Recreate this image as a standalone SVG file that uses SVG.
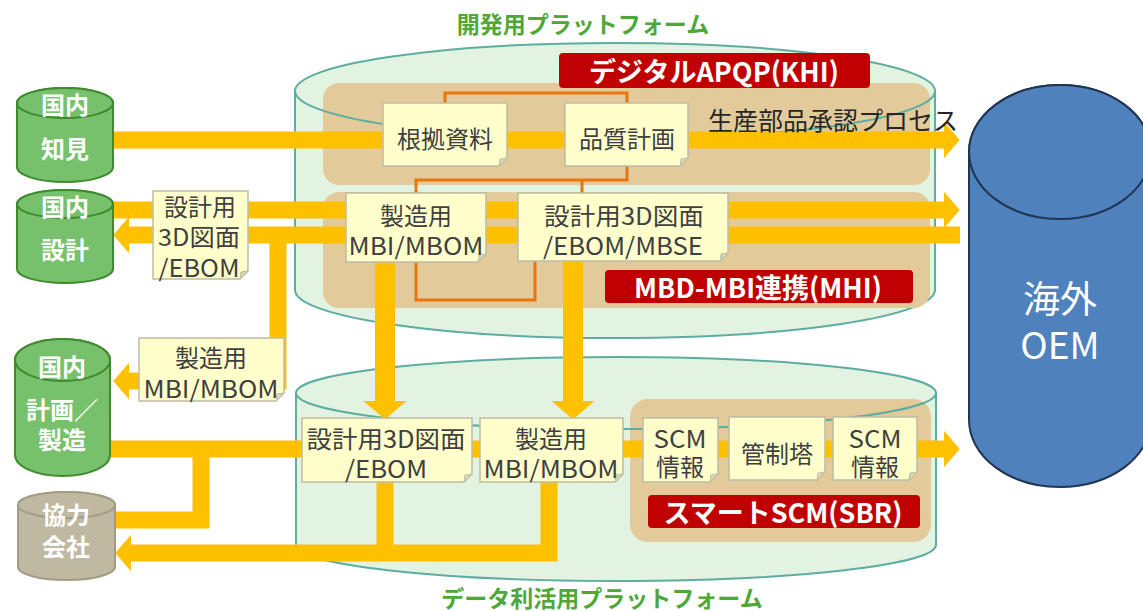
<svg xmlns="http://www.w3.org/2000/svg" width="1143" height="611" viewBox="0 0 1143 611">
<defs>
<style>
text{font-family:"Noto Sans CJK JP","Noto Sans",sans-serif;text-anchor:middle;dominant-baseline:central}
.plat{fill:#E2F3E2;stroke:#5DADA0;stroke-width:2}
.platline{fill:none;stroke:#5DADA0;stroke-width:2}
.tan{fill:#E2CA9A}
.red{fill:#C00000}
.redt{fill:#FFFFFF;font-weight:bold;font-size:27px}
.note{fill:#FFFFCC;stroke:#BDBDA2;stroke-width:1.5}
.fold{fill:#D8D8B4;stroke:#BDBDA2;stroke-width:1}
.nt{fill:#404040;font-size:24px}
.or{fill:none;stroke:#E8760F;stroke-width:3}
.ya{fill:none;stroke:#FFC000;stroke-width:17;stroke-linejoin:miter}
.yb{fill:none;stroke:#FFC000;stroke-width:20}
.gcyl{fill:#77C16D;stroke:#3E8A2C;stroke-width:2}
.kcyl{fill:#BFB9A2;stroke:#A29C84;stroke-width:2}
.ocyl{fill:#4F81BD;stroke:#1F3553;stroke-width:2}
.ct{fill:#FFFFFF;font-weight:bold;font-size:24px}
.title{fill:#4DA838;font-weight:bold;font-size:23px}
</style>
<marker id="ah" viewBox="0 0 19 44" markerWidth="0.95" markerHeight="2.2" refX="0.5" refY="22" orient="auto" markerUnits="strokeWidth">
<path d="M0,0 L19,22 L0,44 Z" fill="#FFC000"/>
</marker>
</defs>

<g id="platform-dev">
<path class="plat" d="M295,91 V290 A320,48 0 0 0 935,290 V91 A320,48 0 0 0 295,91 Z"/>
<rect class="tan" x="323" y="83" width="607" height="102" rx="16"/>
<rect class="tan" x="323" y="192" width="607" height="116" rx="16"/>
<path class="platline" d="M295,91 A320,48 0 0 0 935,91"/>
<text class="title" x="583" y="23">開発用プラットフォーム</text>
</g>

<g id="platform-data">
<path class="plat" d="M296,393 V545 A320,36 0 0 0 936,545 V393 A320,36 0 0 0 296,393 Z"/>
<rect class="tan" x="630" y="399" width="301" height="143" rx="18"/>
<path class="platline" d="M296,393 A320,36 0 0 0 936,393"/>
<text class="title" x="602" y="597">データ利活用プラットフォーム</text>
</g>

<g id="label-apqp">
<rect class="red" x="559" y="53" width="311" height="35" rx="4"/>
<text class="redt" x="714" y="70">デジタルAPQP(KHI)</text>
</g>
<g id="label-mbd">
<rect class="red" x="605" y="270" width="308" height="33" rx="4"/>
<text class="redt" x="758" y="286">MBD-MBI連携(MHI)</text>
</g>
<g id="label-scm">
<rect class="red" x="648" y="495" width="272" height="33" rx="4"/>
<text class="redt" x="783" y="511">スマートSCM(SBR)</text>
</g>

<g id="connectors">
<path class="or" d="M445,103 V93 H627 V103"/>
<path class="or" d="M627,166 V180 H416 V193"/>
<path class="or" d="M582,180 V193"/>
<path class="or" d="M416,262 V300 H535 V261"/>
<path class="ya" d="M113,140 H944" marker-end="url(#ah)"/>
<path class="ya" d="M113,210 H944" marker-end="url(#ah)"/>
<path class="ya" d="M960,235 H129" marker-end="url(#ah)"/>
<path class="ya" d="M278,236 V381 H129" marker-end="url(#ah)"/>
<path class="ya" d="M108,449 H944" marker-end="url(#ah)"/>
<path class="ya" d="M201,449 V520 H113"/>
<path class="ya" d="M385,482 V553"/>
<path class="ya" d="M549,482 V553 H131" marker-end="url(#ah)"/>
<path class="yb" d="M385,262 V401" marker-end="url(#ah)"/>
<path class="yb" d="M573,261 V401" marker-end="url(#ah)"/>
</g>

<g id="note-konkyo">
<path class="note" d="M383,103 H507 V158 L499,166 H383 Z"/><path class="fold" d="M507,158 L499,166 L500,159 Z"/>
<text class="nt" x="445" y="137">根拠資料</text>
</g>
<g id="note-hinshitsu">
<path class="note" d="M565,103 H688 V158 L680,166 H565 Z"/><path class="fold" d="M688,158 L680,166 L681,159 Z"/>
<text class="nt" x="627" y="137">品質計画</text>
</g>
<g id="note-mbi-top">
<path class="note" d="M346,193 H486 V254 L478,262 H346 Z"/><path class="fold" d="M486,254 L478,262 L479,255 Z"/>
<text class="nt" x="416" y="214">製造用</text>
<text class="nt" x="416" y="244" textLength="135" lengthAdjust="spacingAndGlyphs">MBI/MBOM</text>
</g>
<g id="note-ebom-top">
<path class="note" d="M518,193 H728 V253 L720,261 H518 Z"/><path class="fold" d="M728,253 L720,261 L721,254 Z"/>
<text class="nt" x="624" y="214" textLength="160" lengthAdjust="spacingAndGlyphs">設計用3D図面</text>
<text class="nt" x="623" y="244" textLength="160" lengthAdjust="spacingAndGlyphs">/EBOM/MBSE</text>
</g>
<g id="note-ebom-left">
<path class="note" d="M153,191 H248 V271 L240,279 H153 Z"/><path class="fold" d="M248,271 L240,279 L241,272 Z"/>
<text class="nt" x="200" y="205">設計用</text>
<text class="nt" x="199" y="235" textLength="82" lengthAdjust="spacingAndGlyphs">3D図面</text>
<text class="nt" x="199" y="266" textLength="81" lengthAdjust="spacingAndGlyphs">/EBOM</text>
</g>
<g id="note-mbi-left">
<path class="note" d="M139,338 H284 V393 L276,401 H139 Z"/><path class="fold" d="M284,393 L276,401 L277,394 Z"/>
<text class="nt" x="211" y="356">製造用</text>
<text class="nt" x="211" y="387" textLength="135" lengthAdjust="spacingAndGlyphs">MBI/MBOM</text>
</g>
<g id="note-ebom-low">
<path class="note" d="M302,418 H472 V474 L464,482 H302 Z"/><path class="fold" d="M472,474 L464,482 L465,475 Z"/>
<text class="nt" x="386" y="437" textLength="159" lengthAdjust="spacingAndGlyphs">設計用3D図面</text>
<text class="nt" x="386" y="467" textLength="82" lengthAdjust="spacingAndGlyphs">/EBOM</text>
</g>
<g id="note-mbi-low">
<path class="note" d="M480,418 H623 V474 L615,482 H480 Z"/><path class="fold" d="M623,474 L615,482 L616,475 Z"/>
<text class="nt" x="551" y="437">製造用</text>
<text class="nt" x="551" y="467" textLength="135" lengthAdjust="spacingAndGlyphs">MBI/MBOM</text>
</g>
<g id="note-scm1">
<path class="note" d="M643,418 H718 V474 L710,482 H643 Z"/><path class="fold" d="M718,474 L710,482 L711,475 Z"/>
<text class="nt" x="680" y="437" textLength="53" lengthAdjust="spacingAndGlyphs">SCM</text>
<text class="nt" x="680" y="465">情報</text>
</g>
<g id="note-kansei">
<path class="note" d="M729,417 H825 V472 L817,480 H729 Z"/><path class="fold" d="M825,472 L817,480 L818,473 Z"/>
<text class="nt" x="777" y="452">管制塔</text>
</g>
<g id="note-scm2">
<path class="note" d="M833,417 H917 V472 L909,480 H833 Z"/><path class="fold" d="M917,472 L909,480 L910,473 Z"/>
<text class="nt" x="875" y="437" textLength="53" lengthAdjust="spacingAndGlyphs">SCM</text>
<text class="nt" x="875" y="465">情報</text>
</g>

<g id="cyl-chiken">
<path class="gcyl" d="M17,103 V167 A48,15 0 0 0 113,167 V103 A48,15 0 0 0 17,103 Z"/>
<ellipse class="gcyl" cx="65" cy="103" rx="48" ry="15"/>
<text class="ct" x="65" y="103">国内</text>
<text class="ct" x="65" y="147">知見</text>
</g>
<g id="cyl-sekkei">
<path class="gcyl" d="M17,204 V269 A48,14 0 0 0 113,269 V204 A48,14 0 0 0 17,204 Z"/>
<ellipse class="gcyl" cx="65" cy="204" rx="48" ry="14"/>
<text class="ct" x="65" y="205">国内</text>
<text class="ct" x="65" y="248">設計</text>
</g>
<g id="cyl-keikaku">
<path class="gcyl" d="M15,360 V455 A47.5,21 0 0 0 110,455 V360 A47.5,21 0 0 0 15,360 Z"/>
<ellipse class="gcyl" cx="62.5" cy="360" rx="47.5" ry="21"/>
<text class="ct" x="62" y="365">国内</text>
<text class="ct" x="62" y="408">計画／</text>
<text class="ct" x="62" y="438">製造</text>
</g>
<g id="cyl-kyoryoku">
<path class="kcyl" d="M18,505 V567 A48.5,13 0 0 0 115,567 V505 A48.5,13 0 0 0 18,505 Z"/>
<ellipse class="kcyl" cx="66.5" cy="505" rx="48.5" ry="13"/>
<text class="ct" x="66" y="513">協力</text>
<text class="ct" x="66" y="545">会社</text>
</g>
<g id="cyl-oem">
<path class="ocyl" d="M969,152 V420 A91,67 0 0 0 1151,420 V152 A91,67 0 0 0 969,152 Z"/>
<ellipse class="ocyl" cx="1060" cy="152" rx="91" ry="67"/>
<text x="1060" y="297" fill="#FFFFFF" font-size="37">海外</text>
<text x="1060" y="343" fill="#FFFFFF" font-size="37">OEM</text>
</g>

<g id="ppap-label">
<text x="833" y="119" fill="#262626" font-size="25">生産部品承認プロセス</text>
</g>
</svg>
